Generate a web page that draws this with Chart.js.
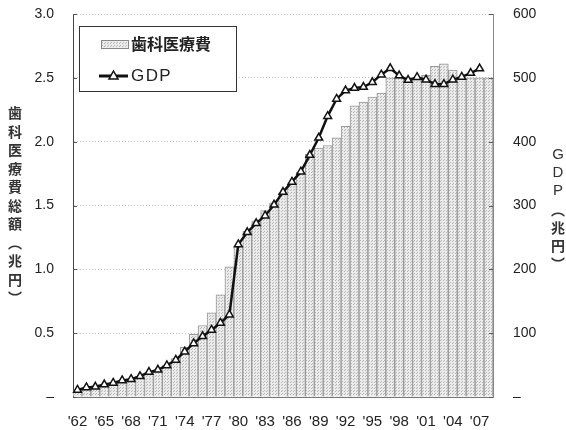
<!DOCTYPE html>
<html lang="ja">
<head>
<meta charset="utf-8">
<title>歯科医療費とGDP</title>
<script src="https://cdn.jsdelivr.net/npm/chart.js@4.4.0/dist/chart.umd.min.js"></script>
<style>
html, body { margin: 0; padding: 0; background: #fff; }
#contenedor { width: 566px; height: 430px; }
</style>
</head>
<body>
<div id="contenedor"><canvas id="grafico" width="566" height="430"></canvas></div>
<script>
// años 1962-2008
var anios = [1962, 1963, 1964, 1965, 1966, 1967, 1968, 1969, 1970, 1971,
             1972, 1973, 1974, 1975, 1976, 1977, 1978, 1979, 1980, 1981,
             1982, 1983, 1984, 1985, 1986, 1987, 1988, 1989, 1990, 1991,
             1992, 1993, 1994, 1995, 1996, 1997, 1998, 1999, 2000, 2001,
             2002, 2003, 2004, 2005, 2006, 2007, 2008];

// 歯科医療費 (兆円)
var gastoDental = [0.05, 0.07, 0.08, 0.09, 0.11, 0.12, 0.14, 0.16, 0.19, 0.21,
                   0.25, 0.30, 0.39, 0.49, 0.56, 0.66, 0.80, 1.02, 1.18, 1.30,
                   1.38, 1.46, 1.52, 1.60, 1.67, 1.76, 1.90, 1.95, 1.97, 2.03,
                   2.12, 2.28, 2.31, 2.35, 2.38, 2.50, 2.50, 2.50, 2.50, 2.52,
                   2.59, 2.61, 2.56, 2.50, 2.50, 2.50, 2.50];

// GDP (兆円), sin dato para 2008
var gdp = [11, 15, 16, 19.5, 22, 26, 28, 32.5, 39, 42.5,
           49.5, 58, 71, 84, 95, 105, 116, 129, 239, 258,
           272, 284, 301, 321, 337, 353, 379, 406, 440, 467,
           480, 484, 485.5, 493, 505, 515, 503.5, 496.5, 501, 497,
           490, 490, 497, 501.5, 507.5, 514.5, null];

var ticksIzq = [0, 0.5, 1.0, 1.5, 2.0, 2.5, 3.0];
var ticksDer = [0, 100, 200, 300, 400, 500, 600];

var nombreBarras = "歯科医療費";
var nombreLinea = "GDP";
var tituloIzq = "歯科医療費総額（兆円）";
var tituloDer = "GDP（兆円）";

var canvas = document.getElementById("grafico");
var ctx = canvas.getContext("2d");

// trama punteada gris para las barras
function crearTrama() {
  var c = document.createElement("canvas");
  c.width = 3;
  c.height = 3;
  var g = c.getContext("2d");
  g.fillStyle = "#ececec";
  g.fillRect(0, 0, 3, 3);
  g.fillStyle = "#b4b4b4";
  g.fillRect(0, 0, 1, 1);
  g.fillRect(2, 1, 1, 1);
  return ctx.createPattern(c, "repeat");
}
var trama = crearTrama();

var fuenteNum = '"Liberation Sans", Arial, sans-serif';
var fuenteJp = '"Noto Sans CJK JP", sans-serif';

// texto vertical, un caracter debajo del otro
function escribirVertical(c, texto, x, yCentro, paso) {
  var chars = Array.from(texto).map(function (ch) {
    if (ch === "（") return "︵";
    if (ch === "）") return "︶";
    return ch;
  });
  var y0 = yCentro - (chars.length - 1) * paso / 2;
  chars.forEach(function (ch, i) {
    var latino = /[A-Za-z]/.test(ch);
    c.font = latino ? "15px " + fuenteNum : "bold 14px " + fuenteJp;
    c.fillText(ch, x, y0 + i * paso);
  });
}

var extras = {
  id: "extras",
  afterDraw: function (chart) {
    var c = chart.ctx;
    var area = chart.chartArea;
    var medio = (area.top + area.bottom) / 2;
    c.save();

    // marcas interiores de los ejes
    c.strokeStyle = "#555";
    c.lineWidth = 1;
    c.beginPath();
    chart.scales.y.ticks.forEach(function (t) {
      var py = Math.round(chart.scales.y.getPixelForValue(t.value)) + 0.5;
      c.moveTo(area.left, py);
      c.lineTo(area.left + 4, py);
    });
    chart.scales.y1.ticks.forEach(function (t) {
      var py = Math.round(chart.scales.y1.getPixelForValue(t.value)) + 0.5;
      c.moveTo(area.right, py);
      c.lineTo(area.right - 4, py);
    });
    c.stroke();

    // títulos verticales
    c.fillStyle = "#333";
    c.textAlign = "center";
    c.textBaseline = "middle";
    escribirVertical(c, tituloIzq, 15, medio, 18.5);
    escribirVertical(c, tituloDer, 558, medio + 4, 18.2);

    // leyenda dentro del área
    var lx = area.left + 6, ly = area.top + 12, lw = 157, lh = 65;
    c.fillStyle = "#fff";
    c.fillRect(lx, ly, lw, lh);
    c.strokeStyle = "#333";
    c.strokeRect(lx + 0.5, ly + 0.5, lw, lh);

    var dsBarras = chart.data.datasets[1];
    var dsLinea = chart.data.datasets[0];

    c.fillStyle = trama;
    c.fillRect(lx + 22, ly + 14, 27, 8);
    c.strokeStyle = "#888";
    c.strokeRect(lx + 22.5, ly + 14.5, 27, 8);

    c.fillStyle = "#222";
    c.textAlign = "left";
    c.font = "bold 16px " + fuenteJp;
    c.fillText(dsBarras.label, lx + 52, ly + 18);

    var yl = ly + 50;
    c.strokeStyle = dsLinea.borderColor;
    c.lineWidth = 3;
    c.beginPath();
    c.moveTo(lx + 20, yl);
    c.lineTo(lx + 49, yl);
    c.stroke();
    c.fillStyle = "#fff";
    c.lineWidth = 1.5;
    c.beginPath();
    c.moveTo(lx + 34.5, yl - 5);
    c.lineTo(lx + 39, yl + 3);
    c.lineTo(lx + 30, yl + 3);
    c.closePath();
    c.fill();
    c.stroke();

    c.fillStyle = "#222";
    c.font = "17px " + fuenteNum;
    c.fillText(dsLinea.label.split("").join("\u200a"), lx + 52, yl);
    c.restore();
  }
};

// ancho fijo de los ejes verticales, sin relleno extra arriba/abajo
function fijarEjeY(scale) {
  scale.width = 73;
  scale.paddingTop = 0;
  scale.paddingBottom = 0;
}

var grafico = new Chart(ctx, {
  type: "bar",
  data: {
    labels: anios,
    datasets: [
      {
        type: "line",
        label: nombreLinea,
        data: gdp,
        yAxisID: "y1",
        order: 0,
        borderColor: "#111",
        borderWidth: 2.5,
        tension: 0,
        pointStyle: "triangle",
        pointRadius: 4.5,
        pointBackgroundColor: "#fff",
        pointBorderColor: "#111",
        pointBorderWidth: 1.5,
        spanGaps: false
      },
      {
        type: "bar",
        label: nombreBarras,
        data: gastoDental,
        yAxisID: "y",
        order: 1,
        backgroundColor: trama,
        borderColor: "#999",
        borderWidth: 1,
        barPercentage: 1,
        categoryPercentage: 1
      }
    ]
  },
  options: {
    responsive: false,
    animation: false,
    layout: { autoPadding: false, padding: { top: 14, left: 0, right: 0, bottom: 0 } },
    plugins: {
      legend: { display: false },
      tooltip: { enabled: false },
      title: { display: false }
    },
    scales: {
      x: {
        offset: true,
        grid: { display: false, drawTicks: false },
        border: { display: true, color: "#777" },
        ticks: {
          autoSkip: false,
          maxRotation: 0,
          minRotation: 0,
          padding: 16,
          color: "#222",
          font: { family: fuenteNum, size: 15 },
          callback: function (val, i) {
            var a = anios[i];
            return (a - 1962) % 3 === 0 ? "'" + String(a).slice(2) : "";
          }
        },
        afterFit: function (scale) {
          scale.height = 33;
          scale.paddingLeft = 0;
          scale.paddingRight = 0;
        }
      },
      y: {
        position: "left",
        min: 0,
        max: 3,
        afterBuildTicks: function (scale) {
          scale.ticks = ticksIzq.map(function (v) { return { value: v }; });
        },
        grid: { color: "#c4c4c4", lineWidth: 1, drawTicks: false },
        border: { display: true, color: "#444", dash: [1, 2] },
        ticks: {
          padding: 19,
          color: "#222",
          font: { family: fuenteNum, size: 14 },
          callback: function (v) { return v === 0 ? "–" : v.toFixed(1); }
        },
        afterFit: fijarEjeY
      },
      y1: {
        position: "right",
        min: 0,
        max: 600,
        afterBuildTicks: function (scale) {
          scale.ticks = ticksDer.map(function (v) { return { value: v }; });
        },
        grid: { drawOnChartArea: false, drawTicks: false },
        border: { display: true, color: "#888" },
        ticks: {
          padding: 20,
          color: "#222",
          font: { family: fuenteNum, size: 14 },
          callback: function (v) { return v === 0 ? "–" : String(v); }
        },
        afterFit: fijarEjeY
      }
    }
  },
  plugins: [extras]
});
</script>
</body>
</html>
